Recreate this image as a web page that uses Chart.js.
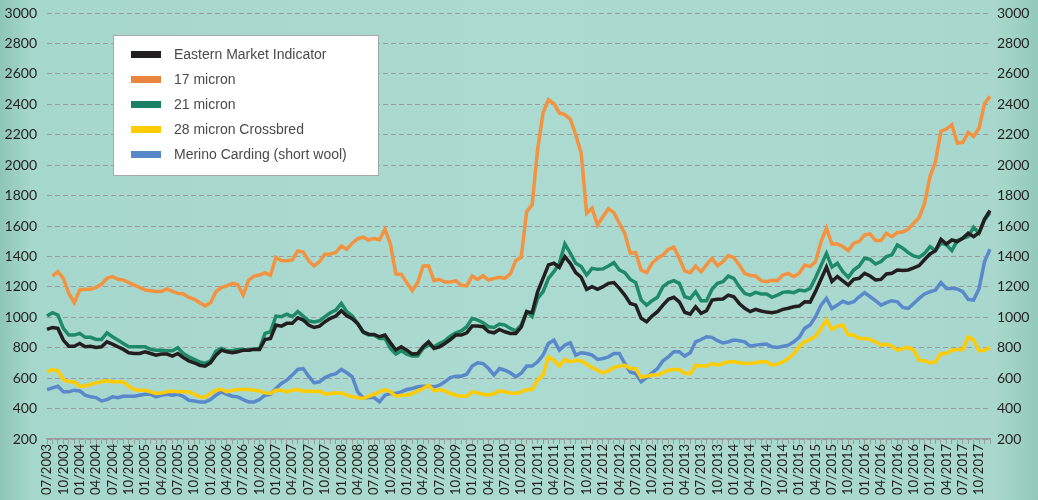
<!DOCTYPE html>
<html>
<head>
<meta charset="utf-8">
<script src="https://cdn.jsdelivr.net/npm/chart.js@4.4.1/dist/chart.umd.min.js"></script>
<style>
  html, body { margin: 0; padding: 0; }
  body {
    width: 1038px; height: 500px; overflow: hidden;
    background: linear-gradient(to right, #8ec6b6 0%, #a6d7cc 3%, #abdad0 50%, #a8d8cd 96%, #92c9ba 100%);
  }
  #wrap { position: relative; width: 1038px; height: 500px; }
</style>
</head>
<body>
<div id="wrap"><canvas id="woolChart"></canvas></div>
<script>
// monthly series, 07/2003 .. 12/2017
const startYear = 2003;
const startMonth = 7;
const monthCount = 174;

const seriesNames = ['Eastern Market Indicator', '17 micron', '21 micron', '28 micron Crossbred', 'Merino Carding (short wool)'];
const yTicks = [200, 400, 600, 800, 1000, 1200, 1400, 1600, 1800, 2000, 2200, 2400, 2600, 2800, 3000];

const emi = [920,933,927,850,810,810,828,806,810,802,806,839,824,806,789,767,762,762,773,762,751,758,758,745,762,736,714,701,685,679,
  701,751,784,773,767,773,784,784,789,789,854,861,949,942,960,960,997,982,949,933,942,971,993,1008,1043,1010,990,958,905,889,
  887,872,883,832,785,806,784,758,762,806,839,795,806,828,854,883,883,898,942,942,938,905,898,920,905,894,894,935,1037,1030,
  1168,1256,1344,1355,1328,1399,1355,1293,1263,1184,1201,1184,1201,1223,1228,1190,1146,1091,1080,993,971,1008,1037,1080,1118,1131,1102,1033,1021,1069,
  1026,1043,1113,1118,1120,1146,1135,1091,1059,1037,1052,1041,1034,1030,1037,1052,1059,1069,1074,1102,1100,1170,1250,1330,1235,1268,1240,1212,1249,1256,
  1289,1271,1245,1249,1285,1289,1311,1307,1311,1325,1340,1380,1416,1438,1513,1482,1508,1498,1519,1552,1530,1557,1645,1702];

const micron17 = [null,1271,1300,1256,1157,1096,1179,1184,1184,1197,1217,1256,1267,1250,1245,1228,1212,1197,1179,1175,1170,1170,1186,1170,1157,1153,1131,1120,1096,1075,
  1096,1168,1195,1206,1223,1214,1146,1245,1271,1278,1293,1276,1394,1372,1372,1377,1436,1429,1372,1337,1366,1414,1416,1427,1469,1447,1487,1515,1527,1508,
  1519,1508,1579,1482,1285,1282,1228,1175,1228,1337,1339,1241,1249,1232,1232,1241,1210,1206,1271,1249,1273,1245,1256,1263,1256,1285,1372,1395,1695,1739,
  2101,2343,2430,2404,2343,2332,2303,2200,2079,1684,1717,1607,1662,1713,1688,1618,1552,1421,1425,1311,1293,1355,1388,1410,1447,1460,1388,1305,1293,1337,
  1300,1344,1388,1339,1366,1405,1392,1344,1289,1274,1271,1241,1234,1243,1241,1278,1289,1267,1289,1344,1333,1366,1497,1585,1482,1482,1465,1438,1487,1498,
  1542,1548,1504,1504,1552,1530,1557,1561,1579,1618,1656,1750,1926,2024,2222,2237,2266,2145,2149,2215,2189,2244,2404,2452];

const micron21 = [1008,1030,1015,927,883,883,894,868,868,854,854,898,872,850,828,806,806,806,806,789,784,784,780,780,800,762,740,723,707,698,
  714,778,795,780,780,789,789,784,793,795,894,905,1008,1004,1021,1004,1037,1008,977,969,977,1004,1030,1048,1091,1037,1008,960,900,883,
  883,861,861,795,758,780,758,745,745,795,817,806,828,846,876,898,911,938,993,982,964,938,933,955,949,927,911,950,1037,1004,
  1124,1168,1256,1300,1355,1482,1421,1355,1333,1278,1322,1315,1318,1337,1359,1311,1293,1249,1228,1113,1080,1109,1131,1201,1228,1241,1223,1135,1124,1168,
  1109,1109,1184,1223,1234,1271,1256,1201,1157,1146,1164,1153,1153,1131,1146,1164,1168,1162,1179,1173,1190,1260,1340,1420,1330,1355,1300,1263,1311,1337,
  1388,1381,1350,1366,1399,1410,1476,1454,1425,1403,1394,1421,1465,1438,1487,1476,1438,1504,1519,1530,1592,1552,1640,1688];

const crossbred28 = [641,657,648,591,576,576,547,547,560,569,576,582,576,576,576,547,525,521,521,510,499,503,510,516,510,510,510,494,477,475,
  499,521,527,510,521,525,525,525,521,516,503,499,521,521,510,521,525,514,516,510,516,494,499,503,503,488,477,472,466,481,
  494,510,525,510,481,488,488,499,516,532,554,516,525,516,499,488,481,481,510,503,494,488,499,516,510,503,499,510,525,525,
  587,620,740,718,679,723,707,718,714,692,670,652,635,648,670,679,685,663,663,604,613,620,620,635,652,657,657,632,630,685,
  679,679,696,685,696,707,707,701,696,696,701,707,707,685,692,707,729,762,806,839,854,876,927,982,920,942,949,883,883,861,
  861,854,839,817,824,810,784,795,802,784,718,714,701,707,762,762,784,789,789,872,850,780,784,802];

const merinoCarding = [525,536,547,510,510,521,516,488,477,472,450,459,477,472,481,481,481,488,494,494,477,488,494,488,494,481,455,450,444,444,
  459,488,510,494,481,477,459,444,444,459,488,494,532,565,587,620,657,663,613,569,576,604,620,630,657,635,609,510,470,472,
  472,444,488,499,499,510,525,532,543,547,547,543,554,576,604,613,613,626,679,701,696,663,620,663,652,635,609,632,679,679,
  707,751,828,850,784,817,832,751,767,762,751,723,729,740,762,762,696,641,630,576,604,635,663,714,740,773,773,745,767,839,
  854,872,868,846,832,839,850,846,839,810,817,821,824,806,802,810,817,839,868,927,949,1004,1080,1124,1058,1080,1105,1091,1102,1135,
  1162,1135,1109,1080,1096,1109,1102,1065,1058,1091,1124,1153,1168,1179,1228,1190,1190,1186,1168,1118,1113,1190,1366,1447];

const lineColors = ['#231f20', '#f39340', '#1f8a6a', '#ffcb05', '#5a89cb'];
const legendColors = ['#231f20', '#e8853f', '#1c8066', '#ffcb05', '#5887c8'];

function buildMonthLabels() {
    const labels = [];
    for (let i = 0; i < monthCount; i++) {
        const m = (startMonth - 1 + i) % 12 + 1;
        const y = startYear + Math.floor((startMonth - 1 + i) / 12);
        labels.push((m < 10 ? '0' + m : '' + m) + '/' + y);
    }
    return labels;
}

// legend box drawn inside the plot, like the original
const boxLegend = {
    id: 'boxLegend',
    afterDatasetsDraw(chart) {
        const c = chart.ctx;
        const x = 113.5, y = 35.5, w = 265, h = 140;
        c.save();
        c.fillStyle = '#ffffff';
        c.fillRect(x, y, w, h);
        c.strokeStyle = '#a8a8a8';
        c.lineWidth = 1;
        c.strokeRect(x, y, w, h);
        c.font = '14px "Liberation Sans", Arial, sans-serif';
        c.textBaseline = 'middle';
        chart.data.datasets.forEach((ds, i) => {
            const rowY = 54.5 + i * 25;
            c.fillStyle = legendColors[i];
            c.fillRect(131, rowY - 3.5, 30, 7);
            c.fillStyle = '#4a4a4a';
            c.fillText(ds.label, 174, rowY + 0.5);
        });
        c.restore();
    }
};

document.addEventListener('DOMContentLoaded', function() {

    const ctx = document.getElementById('woolChart');
    const values = [emi, micron17, micron21, crossbred28, merinoCarding];

    const datasets = seriesNames.map((name, i) => ({
        label: name,
        data: values[i],
        borderColor: lineColors[i],
        backgroundColor: lineColors[i],
        borderWidth: 3.5,
        pointRadius: 0,
        tension: 0,
        fill: false
    }));

    const tickFont = { family: 'Lato, "Open Sans", sans-serif', size: 14 };
    const plainNumber = v => String(v);

    // pin the axis boxes so the plot sits where the original has it
    function fitY(width) {
        return axis => {
            axis.width = width;
            axis.paddingTop = 0;
            axis.paddingBottom = 0;
        };
    }

    new Chart(ctx, {
        type: 'line',
        data: {
            labels: buildMonthLabels(),
            datasets: datasets
        },
        options: {
            responsive: true,
            maintainAspectRatio: false,
            animation: false,
            layout: { padding: { left: 5, right: 8, top: 13, bottom: 0 } },
            plugins: {
                legend: { display: false },
                tooltip: { enabled: false }
            },
            scales: {
                x: {
                    offset: false,
                    afterFit: axis => {
                        axis.height = 61;
                        axis.paddingLeft = 0;
                        axis.paddingRight = 0;
                    },
                    grid: { drawOnChartArea: false, drawTicks: true, tickLength: 5, color: '#9a9a9a' },
                    border: { display: true, color: '#9a9a9a', width: 1.5 },
                    ticks: {
                        autoSkip: false,
                        maxRotation: 90,
                        minRotation: 90,
                        padding: 0,
                        color: '#231f20',
                        font: { family: 'Lato, "Open Sans", sans-serif', size: 13 },
                        callback: function(val, index) {
                            return index % 3 === 0 ? this.getLabelForValue(val) : '';
                        }
                    }
                },
                y: {
                    position: 'left',
                    min: yTicks[0],
                    max: yTicks[yTicks.length - 1],
                    afterBuildTicks: axis => { axis.ticks = yTicks.map(v => ({ value: v })); },
                    afterFit: fitY(42),
                    grid: { color: '#9e9a9d', drawTicks: false },
                    border: { display: false, dash: [5, 3] },
                    ticks: { padding: 10, color: '#231f20', font: tickFont, callback: plainNumber }
                },
                y2: {
                    position: 'right',
                    min: yTicks[0],
                    max: yTicks[yTicks.length - 1],
                    afterBuildTicks: axis => { axis.ticks = yTicks.map(v => ({ value: v })); },
                    afterFit: fitY(40),
                    grid: { display: false, drawTicks: false },
                    border: { display: false },
                    ticks: { padding: 7, color: '#231f20', font: tickFont, callback: plainNumber }
                }
            }
        },
        plugins: [boxLegend]
    });

});
</script>
</body>
</html>
